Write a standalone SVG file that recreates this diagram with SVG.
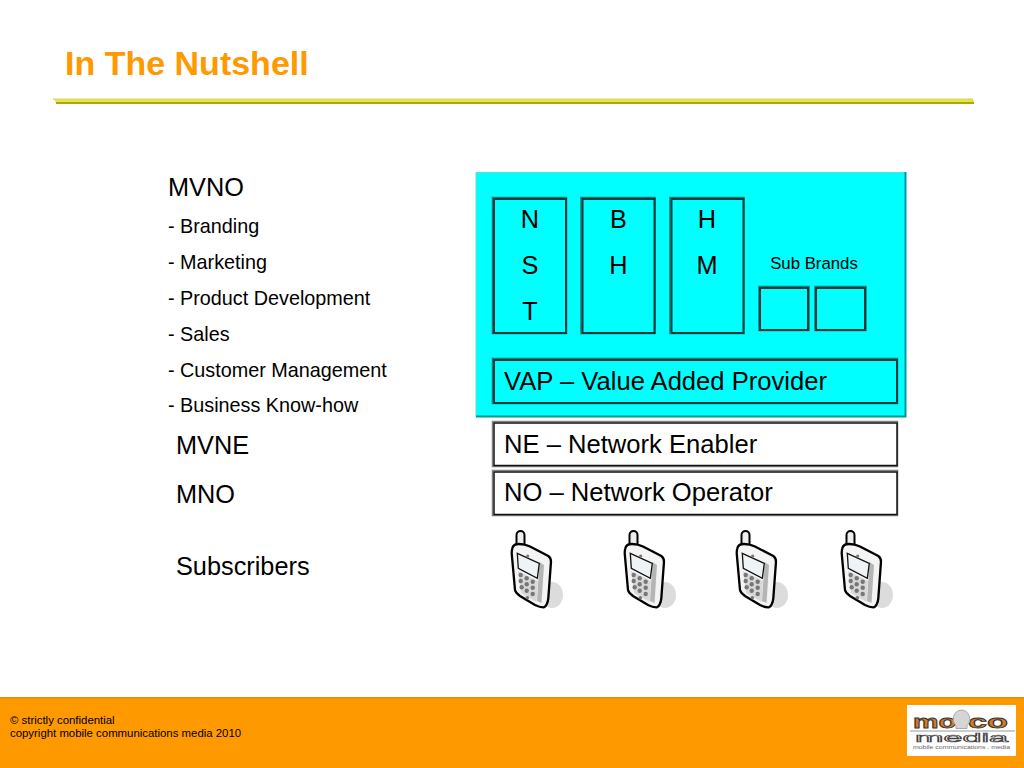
<svg xmlns="http://www.w3.org/2000/svg" width="1024" height="768" viewBox="0 0 1024 768">
<style>
text{font-family:"Liberation Sans",Arial,sans-serif;fill:#000}
.h{font-size:25.300px}
.b{font-size:25.600px}
.s{font-size:19.800px}
.c{text-anchor:middle}
.bs{fill:none;stroke:#1a7a7a;stroke-width:1.500}
.bm{fill:#0ff;stroke:#063b3b;stroke-width:2}
.ws{fill:none;stroke:#808080;stroke-width:1.500}
.wm{fill:#fff;stroke:#111;stroke-width:1.500}
.f{font-size:11.400px}
.k{fill:#d97a20;stroke:#333;stroke-width:.8;font-weight:700;font-size:19px}
</style>
<defs>
<g id="phone">
<ellipse cx="41" cy="65" rx="11" ry="13" fill="#dcdcdc"/>
<rect x="5.500" y="1" width="8" height="16" rx="4" fill="#eee" stroke="#000" stroke-width="2"/>
<path d="M1.300 18.300C2 15 5 14 8 14C12 14 16 15 19 16.500L37.300 26C39.500 27.500 40 29.500 40 31.700L37.300 68.300C37 72 35 77.300 32.300 77.300C29 77.300 27 76.500 24 75L9 66C6 64 4.500 62 4 60L.700 23.300C.700 21 .900 19.500 1.300 18.300Z" fill="#f4f4f4" stroke="#000" stroke-width="2.300"/>
<path d="M28.500 32L33 35L30.500 73L26 71Z" fill="#b5b5b5"/>
<path d="M7 41L27 51L25.500 72L10 63Z" fill="#d8d8d8"/>
<path d="M6.300 23.300L28.300 33.300L26.300 48.300L7.300 38.300Z" fill="#eef3f5" stroke="#111" stroke-width="1.300"/>
<g fill="#777">
<circle cx="9.700" cy="45" r="2.200"/><circle cx="15.700" cy="48.300" r="2.200"/><circle cx="21.700" cy="51.700" r="2.200"/>
<circle cx="9.700" cy="51" r="2.200"/><circle cx="15.700" cy="54.300" r="2.200"/><circle cx="21.700" cy="57.700" r="2.200"/>
<circle cx="10.700" cy="57.300" r="2.200"/><circle cx="15.700" cy="60.700" r="2.200"/><circle cx="21.700" cy="64" r="2.200"/>
<circle cx="16.300" cy="67.700" r="1.800"/><circle cx="16.700" cy="26" r="1.600"/>
</g>
</g>
</defs>
<rect width="1024" height="768" fill="#fff"/>
<g id="header">
<text x="65" y="75" font-size="34" font-weight="700" style="fill:#ff9900">In The Nutshell</text>
<rect x="53" y="98.500" width="920" height="1.500" fill="#d8d86a"/>
<rect x="55" y="100" width="919" height="2" fill="#e6e63c"/>
<rect x="56" y="102" width="918" height="2" fill="#a8a814"/>
</g>
<g id="mvno-list">
<text class="h" x="168" y="196">MVNO</text>
<text class="s" x="168" y="233">- Branding</text>
<text class="s" x="168" y="269">- Marketing</text>
<text class="s" x="168" y="305">- Product Development</text>
<text class="s" x="168" y="341">- Sales</text>
<text class="s" x="168" y="377">- Customer Management</text>
<text class="s" x="168" y="412">- Business Know-how</text>
</g>
<g id="side-labels">
<text class="h" x="176" y="454">MVNE</text>
<text class="h" x="176" y="503">MNO</text>
<text class="h" x="176" y="575">Subscribers</text>
</g>
<g id="mvno-box">
<rect x="476" y="172" width="430" height="245" fill="#0ff"/>
<path d="M476 417V172.500H905.500" fill="none" stroke="#5fdcdc" stroke-width="1"/>
<path d="M905.500 172V416.500H476" fill="none" stroke="#009a9a" stroke-width="2"/>
</g>
<g id="nst">
<rect class="bs" x="492.500" y="197.500" width="74" height="136"/><rect class="bm" x="494" y="199" width="72" height="134"/>
<text class="h c" x="530" y="228">N</text><text class="h c" x="530" y="274">S</text><text class="h c" x="530" y="320">T</text>
</g>
<g id="bh">
<rect class="bs" x="581" y="197.500" width="74" height="136"/><rect class="bm" x="582.500" y="199" width="72" height="134"/>
<text class="h c" x="618.500" y="228">B</text><text class="h c" x="618.500" y="274">H</text>
</g>
<g id="hm">
<rect class="bs" x="670" y="197.500" width="74" height="136"/><rect class="bm" x="671.500" y="199" width="72" height="134"/>
<text class="h c" x="707" y="228">H</text><text class="h c" x="707" y="274">M</text>
</g>
<g id="sub-brands">
<text class="c" x="814" y="269" font-size="16.800">Sub Brands</text>
<rect class="bs" x="759" y="286.500" width="50" height="44"/><rect class="bm" x="760" y="288" width="48" height="42"/>
<rect class="bs" x="815" y="286.500" width="51" height="44"/><rect class="bm" x="816" y="288" width="49" height="42"/>
</g>
<g id="vap">
<rect class="bs" x="492.500" y="358.500" width="405" height="45"/><rect class="bm" x="494" y="360" width="403" height="43"/>
<text class="b" x="504" y="390">VAP – Value Added Provider</text>
</g>
<g id="ne">
<rect class="ws" x="492.500" y="421.500" width="405" height="45"/><rect class="wm" x="494" y="423" width="403" height="42.500"/>
<text class="b" x="504" y="453">NE – Network Enabler</text>
</g>
<g id="no">
<rect class="ws" x="492.500" y="470.500" width="405" height="45"/><rect class="wm" x="494" y="472" width="403" height="42.500"/>
<text class="b" x="504" y="501">NO – Network Operator</text>
</g>
<g id="phones">
<use href="#phone" x="511" y="530"/>
<use href="#phone" x="624" y="530"/>
<use href="#phone" x="736" y="530"/>
<use href="#phone" x="841" y="530"/>
</g>
<g id="footer">
<rect y="697" width="1024" height="71" fill="#ff9900"/>
<rect y="697" width="1024" height="2" fill="#f08c00"/>
<text class="f" x="10" y="724">© strictly confidential</text>
<text class="f" x="10" y="737">copyright mobile communications media 2010</text>
</g>
<g id="logo">
<rect x="907" y="705" width="109" height="51" fill="#fff"/>
<text class="k" x="913" y="728" textLength="43" lengthAdjust="spacingAndGlyphs">mo</text>
<text class="k" x="968" y="728" textLength="40" lengthAdjust="spacingAndGlyphs">co</text>
<path d="M961 710a9 9 0 0 1 6 15.500v3h-11v-3a9 9 0 0 1 5-15.500Z" fill="#d5d5d5" stroke="#aaa" stroke-width="1"/>
<rect x="910" y="730.500" width="105" height="1" fill="#999"/>
<text x="915" y="742" font-size="13" textLength="93" lengthAdjust="spacingAndGlyphs" style="fill:#fff;stroke:#444;stroke-width:.7">media</text>
<text x="913" y="749" font-size="4.500" textLength="97" lengthAdjust="spacingAndGlyphs" style="fill:#666">mobile communications . media</text>
</g>
</svg>
